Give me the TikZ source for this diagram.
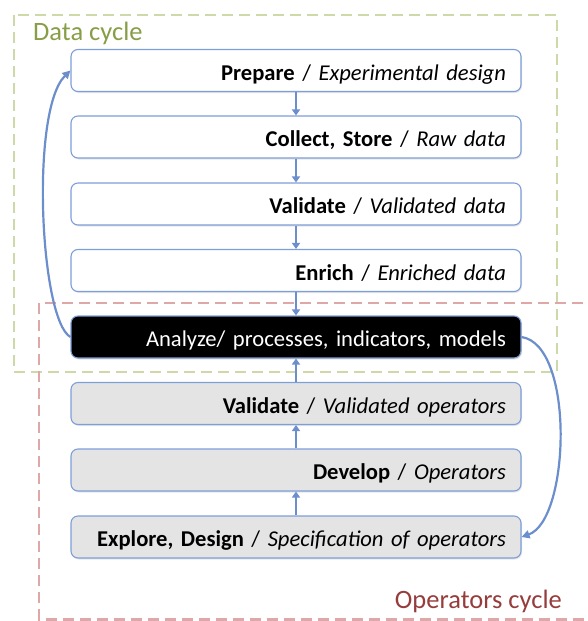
\documentclass[tikz,border=0pt]{standalone}
\usepackage{fontspec}
\setmainfont{Carlito}
\usetikzlibrary{arrows.meta,shadows}
\definecolor{boxline}{RGB}{126,158,216}
\definecolor{arrowblue}{RGB}{108,142,204}
\definecolor{greendash}{RGB}{205,217,168}
\definecolor{reddash}{RGB}{222,168,168}
\definecolor{greentext}{RGB}{135,158,70}
\definecolor{redtext}{RGB}{150,60,60}
\definecolor{opgray}{RGB}{228,228,228}
\tikzset{
  stagebox/.style={draw=boxline, line width=1.1pt, rounded corners=7pt,
    minimum height=42pt, text width=420pt, inner xsep=15pt, align=right,
    text height=22pt, text depth=3pt,
    font=\fontsize{22.6}{26}\selectfont,
    drop shadow={shadow xshift=1pt, shadow yshift=-1.5pt, opacity=0.2}},
  datastage/.style={stagebox, fill=white},
  opstage/.style={stagebox, fill=opgray},
  keystage/.style={stagebox, fill=black, text=white},
  flow/.style={draw=arrowblue, line width=2.4pt, -{Triangle[length=6pt,width=8pt]}},
  loop/.style={draw=arrowblue, line width=2.2pt, -{Triangle[length=8pt,width=8pt]}},
  cycleframe/.style={dash pattern=on 11pt off 6pt, line width=2.7pt},
  cyclelabel/.style={font=\fontsize{26.5}{30}\selectfont, inner sep=0pt}
}
\begin{document}
\begin{tikzpicture}[x=1pt,y=-1pt]
\useasboundingbox (0,0) rectangle (588,621);
% frames
\draw[cycleframe, draw=greendash] (14,15) rectangle (557,372);
\draw[cycleframe, draw=reddash] (600,303) -- (39,303) -- (39,619.5) -- (600,619.5);
\node[cyclelabel, text=greentext, anchor=west] (dlab) at (33,33) {Data cycle};
\node[cyclelabel, text=redtext, anchor=east] (olab) at (562,601) {Operators cycle};
% stages
\node[datastage] (prep) at (296,70.5) {\textbf{Prepare} / \textit{Experimental design}};
\node[datastage] (coll) at (296,137) {\textbf{Collect, Store} / \textit{Raw data}};
\node[datastage] (vald) at (296,204) {\textbf{Validate} / \textit{Validated data}};
\node[datastage] (enr) at (296,270.5) {\textbf{Enrich} / \textit{Enriched data}};
\node[keystage] (ana) at (296,337) {Analyze/ processes, indicators, models};
\node[opstage] (valo) at (296,403.5) {\textbf{Validate} / \textit{Validated operators}};
\node[opstage] (dev) at (296,470) {\textbf{Develop} / \textit{Operators}};
\node[opstage] (expl) at (296,537) {\textbf{Explore, Design} / \textit{Specification of operators}};
% flows
\draw[flow] (prep) -- (coll);
\draw[flow] (coll) -- (vald);
\draw[flow] (vald) -- (enr);
\draw[flow] (enr) -- (ana);
\draw[flow] (expl) -- (dev);
\draw[flow] (dev) -- (valo);
\draw[flow] (valo) -- (ana);
% loops
\draw[loop] (ana.west) .. controls (40,320) and (30,110) .. (prep.west);
\draw[loop] (ana.east) .. controls (575,345) and (570,520) .. (expl.east);
\end{tikzpicture}
\end{document}
